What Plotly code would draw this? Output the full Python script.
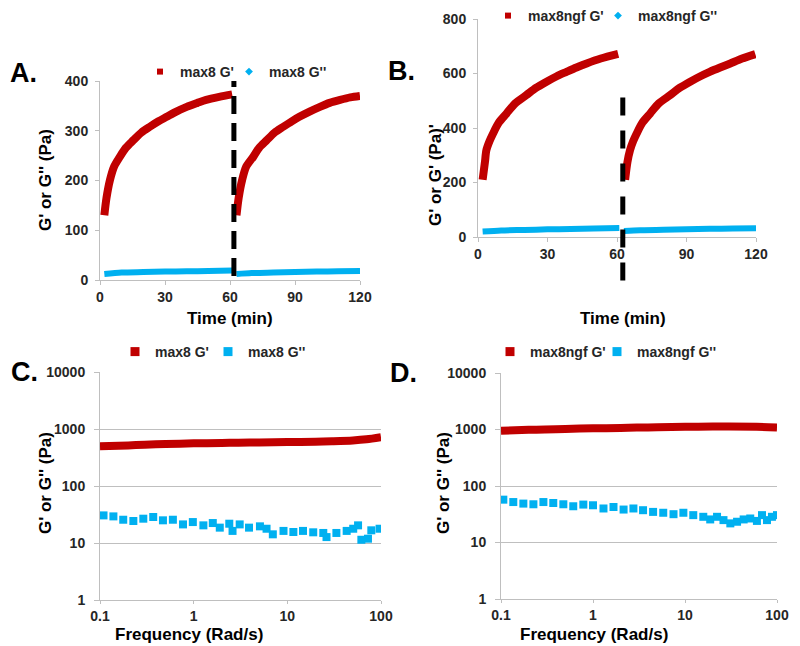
import plotly.graph_objects as go

# ---------------- data ----------------
# Panel A: max8 time sweep (two runs separated at ~62 min)
a_t1 = [2, 3, 4.6, 6.5, 9.2, 12, 15.4, 19, 23, 27, 30.8, 35, 40, 45, 49, 55, 61]
a_g1 = [130, 165, 201, 228, 248, 266, 281, 296, 308, 319, 328, 338, 348, 356, 362, 368, 373]
a_t2 = [63, 64, 65.6, 67.5, 70.8, 73.5, 77, 80.5, 84.6, 88.5, 92, 96.5, 101.5, 106, 110.8, 115.5, 120]
a_g2 = [130, 165, 201, 228, 248, 266, 281, 296, 308, 319, 328, 338, 348, 356, 362, 367, 370]
a_gpp_t1 = [2, 10, 20, 30, 40, 50, 61]
a_gpp1 = [12, 15, 16, 17, 17.5, 18, 19]
a_gpp_t2 = [63, 70, 80, 90, 100, 110, 120]
a_gpp2 = [12, 14, 15, 16, 17, 17.5, 18]
a_break = 61.8

# Panel B: max8ngf time sweep
b_t1 = [2, 3, 3.6, 5, 6.5, 9, 12.3, 16, 20.9, 25, 29.6, 34, 38.2, 42.5, 46.9, 53, 60.5]
b_g1 = [210, 275, 318, 352, 380, 420, 453, 490, 521, 547, 570, 590, 606, 622, 637, 655, 672]
b_t2 = [63.5, 64.5, 65.6, 67, 68.5, 71, 74.3, 78, 83, 87, 91.6, 96, 100, 104.5, 108.9, 114, 119.7]
b_g2 = [210, 275, 318, 352, 380, 420, 453, 490, 521, 547, 570, 590, 606, 622, 637, 655, 671]
b_gpp_t1 = [2, 10, 20, 30, 40, 50, 61]
b_gpp1 = [20, 24, 26, 28, 29, 31, 33]
b_gpp_t2 = [63, 70, 80, 90, 100, 110, 120]
b_gpp2 = [22, 25, 27, 28, 30, 31, 32]
b_break = 62.5

# Panel C: max8 frequency sweep
c_f_gp = [0.1, 0.2, 0.3, 0.5, 1, 2, 3, 5, 10, 20, 30, 50, 70, 100]
c_gp = [500, 515, 530, 545, 560, 568, 575, 582, 590, 600, 610, 630, 660, 720]
c_f_gpp = [0.109, 0.139, 0.177, 0.227, 0.29, 0.37, 0.47, 0.6, 0.77, 0.98, 1.27, 1.6, 1.9, 2.4,
           2.6, 3.1, 3.9, 5.1, 6.0, 7.0, 9.1, 11.6, 14.7, 18.9, 24.2, 26.2, 33.4, 43, 50.5,
           56.9, 61.7, 72.6, 78.8, 96.6]
c_gpp = [30.5, 29.3, 25.6, 24.3, 26.7, 28.6, 25, 25.6, 21.2, 23.3, 20.4, 22.4, 18.6, 21.8,
         16.3, 21.2, 18.6, 19.6, 17.8, 14.2, 16.3, 15.6, 16.3, 15.4, 15, 12.7, 15, 16.3, 17.8,
         20.4, 11.4, 11.9, 16.7, 17.8]

# Panel D: max8ngf frequency sweep
d_f_gp = [0.1, 0.2, 0.3, 0.5, 1, 2, 3, 5, 10, 20, 30, 60, 100]
d_gp = [950, 985, 1000, 1025, 1050, 1065, 1080, 1095, 1120, 1125, 1130, 1120, 1080]
d_f_gpp = [0.106, 0.136, 0.175, 0.225, 0.289, 0.37, 0.476, 0.61, 0.785, 1.0, 1.3, 1.67, 2.15,
           2.75, 3.5, 4.5, 5.8, 7.5, 9.6, 12.3, 15.8, 18.8, 22.3, 26.2, 31.1, 36.8, 43.4,
           51.2, 60.5, 68.7, 77.8, 88.1, 100]
d_gpp = [57.3, 52, 48.8, 47.5, 52, 50, 47.5, 43.8, 46.9, 45.6, 40, 42.5, 38.3, 40, 37.3,
         34.8, 33.6, 31.7, 33.6, 30.5, 28.5, 25.6, 28.5, 24.9, 21.8, 23.3, 25.6, 26.6, 24.1,
         30.5, 24.9, 28.5, 30.5]

time_ticks = [0, 30, 60, 90, 120]
log_x_ticks = [0.1, 1, 10, 100]
log_y_ticks = [1, 10, 100, 1000, 10000]

# ---------------- style ----------------
RED = "#C00000"
BLUE = "#00B0F0"
AXIS = "#BFBFBF"
TXT = "#262626"
FONT = "Liberation Sans, Arial, sans-serif"

fig = go.Figure()

def line(x, y, color, width, xa, ya):
    fig.add_trace(go.Scatter(x=x, y=y, mode="lines",
                             line=dict(color=color, width=width, shape="spline", smoothing=0.8),
                             xaxis=xa, yaxis=ya, showlegend=False, hoverinfo="skip"))

def leg(name, color, symbol, size, legend, xa, ya, lw=None):
    fig.add_trace(go.Scatter(x=[None], y=[None], mode="markers", name=name,
                             marker=dict(color=color, symbol=symbol, size=size),
                             xaxis=xa, yaxis=ya, legend=legend, legendwidth=lw))

# Panel A
line(a_t1, a_g1, RED, 8, "x", "y")
line(a_t2, a_g2, RED, 8, "x", "y")
line(a_gpp_t1, a_gpp1, BLUE, 6, "x", "y")
line(a_gpp_t2, a_gpp2, BLUE, 6, "x", "y")
leg("max8 G'", RED, "square", 6, "legend", "x", "y", 44)
leg("max8 G''", BLUE, "diamond", 6, "legend", "x", "y")

# Panel B
line(b_t1, b_g1, RED, 8, "x2", "y2")
line(b_t2, b_g2, RED, 8, "x2", "y2")
line(b_gpp_t1, b_gpp1, BLUE, 6, "x2", "y2")
line(b_gpp_t2, b_gpp2, BLUE, 6, "x2", "y2")
leg("max8ngf G'", RED, "square", 6, "legend2", "x2", "y2", 65)
leg("max8ngf G''", BLUE, "diamond", 6, "legend2", "x2", "y2")

# Panel C
line(c_f_gp, c_gp, RED, 8, "x3", "y3")
fig.add_trace(go.Scatter(x=c_f_gpp, y=c_gpp, mode="markers",
                         marker=dict(color=BLUE, symbol="square", size=8),
                         xaxis="x3", yaxis="y3", showlegend=False, hoverinfo="skip"))
leg("max8 G'", RED, "square", 9, "legend3", "x3", "y3", 48)
leg("max8 G''", BLUE, "square", 9, "legend3", "x3", "y3")

# Panel D
line(d_f_gp, d_gp, RED, 8, "x4", "y4")
fig.add_trace(go.Scatter(x=d_f_gpp, y=d_gpp, mode="markers",
                         marker=dict(color=BLUE, symbol="square", size=8),
                         xaxis="x4", yaxis="y4", showlegend=False, hoverinfo="skip"))
leg("max8ngf G'", RED, "square", 9, "legend4", "x4", "y4", 62)
leg("max8ngf G''", BLUE, "square", 9, "legend4", "x4", "y4")

tickfont = dict(family=FONT, size=14, color=TXT, weight="bold")

def lin_axes(xd, yd, yr, ydt):
    xa = dict(domain=xd, range=[0, 120], tickvals=time_ticks, showgrid=False, zeroline=False,
              showline=True, linecolor=AXIS, linewidth=1, ticks="outside", tickcolor=AXIS,
              ticklen=4, tickfont=tickfont)
    ya = dict(domain=yd, range=yr, dtick=ydt, showgrid=False, zeroline=False,
              showline=True, linecolor=AXIS, linewidth=1, ticks="outside", tickcolor=AXIS,
              ticklen=4, tickfont=tickfont, ticklabelstandoff=4)
    return xa, ya

def log_axes(xd, yd):
    xa = dict(domain=xd, type="log", range=[-1, 2], tickvals=log_x_ticks, ticktext=["0.1", "1", "10", "100"],
              showgrid=False, zeroline=False, showline=True, linecolor=AXIS, ticks="outside",
              tickcolor=AXIS, ticklen=3, tickfont=tickfont)
    ya = dict(domain=yd, type="log", range=[0, 4], tickvals=log_y_ticks,
              ticktext=["1", "10", "100", "1000", "10000"], showgrid=True, gridcolor=AXIS,
              zeroline=False, showline=True, linecolor=AXIS, ticks="outside", tickcolor=AXIS,
              ticklen=5, tickfont=tickfont, ticklabelstandoff=6)
    return xa, ya

# The page body adds an 8px margin, so the figure is drawn 8px smaller and
# reference pixel positions are shifted by that offset.
OFF = 8
W = 800 - OFF
H = 646 - OFF
def py(p):
    return 1 - (p - OFF) / H
def px(p):
    return (p - OFF) / W

xa1, ya1 = lin_axes([px(100), px(360)], [py(280), py(81)], [0, 400], 100)
xa2, ya2 = lin_axes([px(478), px(756)], [py(237), py(19)], [0, 800], 200)
xa3, ya3 = log_axes([px(100), px(381)], [py(600), py(372)])
xa4, ya4 = log_axes([px(501), px(777)], [py(599), py(373)])
ya2["anchor"] = "x2"; xa2["anchor"] = "y2"
ya3["anchor"] = "x3"; xa3["anchor"] = "y3"
ya4["anchor"] = "x4"; xa4["anchor"] = "y4"

legfont = dict(family=FONT, size=14, color=TXT, weight="bold")
def legend_at(x, y):
    return dict(orientation="h", x=x, y=y, xanchor="left", yanchor="middle",
                font=legfont, bgcolor="rgba(0,0,0,0)", itemwidth=30, tracegroupgap=0)

fig.update_layout(
    width=W, height=H, margin=dict(l=0, r=0, t=0, b=0, pad=0, autoexpand=False),
    paper_bgcolor="white", plot_bgcolor="white",
    xaxis=xa1, yaxis=ya1, xaxis2=xa2, yaxis2=ya2, xaxis3=xa3, yaxis3=ya3, xaxis4=xa4, yaxis4=ya4,
    legend=legend_at(px(140), py(72)),
    legend2=legend_at(px(488), py(16)),
    legend3=legend_at(px(115), py(352)),
    legend4=legend_at(px(490), py(352)),
    showlegend=True,
)

# dashed separators between the two runs
fig.add_shape(type="line", xref="x", yref="y domain", x0=a_break, x1=a_break, y0=0.02, y1=1,
              line=dict(color="black", width=5, dash="18px,9px"))
fig.add_shape(type="line", xref="x2", yref="y2 domain", x0=b_break, x1=b_break, y0=-0.2, y1=0.69,
              line=dict(color="black", width=5, dash="18px,15px"))

titlefont = dict(family=FONT, size=17, color="black", weight="bold")
def ann(text, x, y, angle=0, size=None):
    f = dict(titlefont)
    if size:
        f["size"] = size
    fig.add_annotation(text=text, x=px(x), y=py(y), xref="paper", yref="paper", showarrow=False,
                       textangle=angle, font=f, xanchor="center", yanchor="middle")

ann("Time (min)", 230, 318)
ann("Time (min)", 623, 319)
ann("Frequency (Rad/s)", 189, 634)
ann("Frequency (Rad/s)", 594, 634)
ann("G' or G'' (Pa)", 45, 180, -90)
ann("G' or G' (Pa)'", 435, 175, -90)
ann("G' or G'' (Pa)", 45, 483, -90)
ann("G' or G'' (Pa)", 443, 483, -90)
ann("A.", 23, 73, size=27)
ann("B.", 401, 71, size=27)
ann("C.", 24, 372, size=27)
ann("D.", 403, 373, size=27)

fig.write_html("out.html")
